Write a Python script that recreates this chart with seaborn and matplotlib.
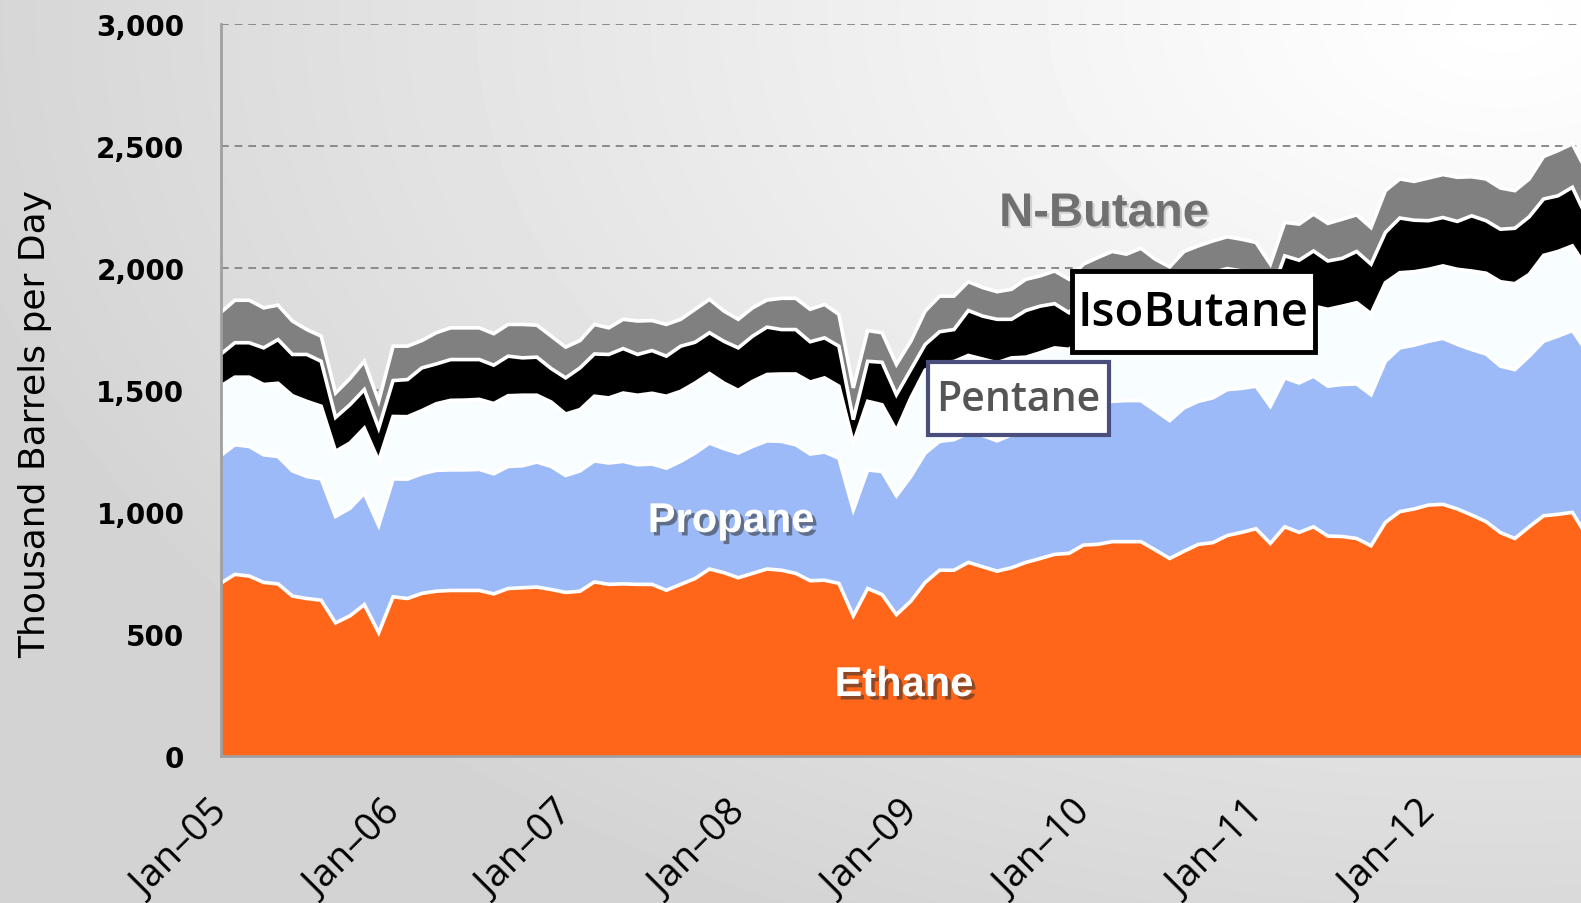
import numpy as np
import matplotlib
matplotlib.use("Agg")
import matplotlib.pyplot as plt
import matplotlib.transforms as mtransforms
import seaborn as sns
from matplotlib import patheffects as pe
from matplotlib.patches import Rectangle

# ---------------- data (thousand barrels per day, monthly Jan-05 .. Dec-12) -------------
year_ticks = ["Jan\u201305", "Jan\u201306", "Jan\u201307", "Jan\u201308",
              "Jan\u201309", "Jan\u201310", "Jan\u201311", "Jan\u201312"]
y_tick_values = [0, 500, 1000, 1500, 2000, 2500, 3000]
y_tick_labels = ["0", "500", "1,000", "1,500", "2,000", "2,500", "3,000"]
series_names = ["Ethane", "Propane", "Pentane", "IsoButane", "N-Butane"]

ethane = [706, 743, 736, 710, 704, 654, 644, 637, 544, 573, 619, 504,
          651, 644, 665, 674, 677, 677, 677, 663, 685, 688, 691, 681,
          669, 674, 712, 702, 704, 702, 702, 678, 702, 726, 765, 750,
          729, 747, 765, 760, 747, 717, 719, 706, 573, 685, 660, 578,
          633, 710, 760, 760, 792, 774, 756, 770, 792, 808, 825, 829,
          863, 866, 877, 877, 877, 843, 808, 838, 866, 873, 902, 915,
          930, 870, 938, 915, 938, 900, 898, 890, 860, 956, 1000, 1011,
          1027, 1030, 1011, 986, 959, 914, 890, 938, 983, 989, 997, 900]

propane = [523, 531, 531, 523, 522, 513, 500, 497, 436, 441, 456, 439,
           483, 489, 490, 495, 494, 494, 496, 492, 500, 500, 512, 504,
           479, 493, 496, 497, 502, 490, 493, 500, 504, 514, 516, 508,
           511, 520, 525, 528, 527, 519, 525, 513, 434, 486, 504, 487,
           511, 530, 528, 535, 530, 538, 534, 545, 548, 552, 555, 566,
           557, 574, 575, 578, 578, 571, 565, 587, 586, 593, 598, 590,
           584, 562, 610, 612, 617, 614, 623, 633, 619, 660, 671, 671,
           671, 680, 674, 678, 687, 682, 692, 699, 715, 730, 745, 756]

pentane = [285, 277, 284, 288, 300, 308, 308, 298, 267, 267, 267, 265,
           256, 256, 259, 273, 285, 286, 287, 288, 290, 289, 274, 264,
           252, 251, 265, 267, 280, 285, 290, 295, 287, 287, 285, 269,
           257, 267, 272, 276, 290, 295, 304, 295, 274, 281, 274, 267,
           322, 340, 322, 320, 318, 313, 320, 315, 293, 291, 291, 270,
           290, 290, 290, 290, 290, 300, 320, 300, 290, 290, 290, 289,
           290, 290, 290, 290, 287, 315, 321, 333, 332, 322, 308, 301,
           295, 297, 308, 322, 331, 346, 352, 335, 352, 347, 347, 344]

isobutane = [130, 141, 141, 150, 179, 169, 192, 184, 139, 157, 158, 134,
             147, 152, 175, 163, 167, 166, 163, 157, 162, 153, 156, 137,
             148, 171, 173, 178, 182, 167, 175, 164, 185, 167, 167, 171,
             174, 185, 194, 182, 182, 165, 164, 164, 96, 164, 174, 147,
             116, 105, 127, 131, 184, 176, 178, 158, 191, 191, 181, 150,
             174, 181, 194, 180, 204, 190, 180, 211, 217, 223, 206, 192,
             169, 162, 210, 213, 226, 198, 196, 210, 203, 206, 224, 211,
             199, 198, 196, 226, 215, 215, 227, 236, 231, 228, 240, 204]

nbutane = [171, 174, 174, 164, 141, 137, 102, 103, 100, 107, 116, 110,
           141, 137, 112, 128, 130, 130, 130, 129, 130, 137, 131, 133,
           126, 112, 121, 109, 120, 137, 123, 130, 110, 135, 137, 124,
           117, 116, 111, 128, 128, 133, 137, 130, 130, 126, 121, 124,
           116, 137, 146, 137, 118, 117, 113, 123, 128, 124, 134, 137,
           130, 130, 130, 130, 130, 130, 130, 130, 130, 130, 130, 130,
           130, 130, 137, 148, 151, 154, 160, 150, 150, 171, 160, 159,
           175, 176, 181, 160, 171, 169, 154, 155, 174, 185, 178, 190]

colors = ["#FF6619", "#9CBAF8", "#F8FDFF", "#000000", "#808080"]

# ---------------- figure -------------------------------------------------------------------
sns.set_style("white")
plt.rcParams['font.family'] = ['DejaVu Sans']
plt.rcParams['text.color'] = 'black'

W, H = 1581, 904
fig = plt.figure(figsize=(W / 100, H / 100), dpi=100)

# radial grey background (white toward top right)
bg = fig.add_axes([0, 0, 1, 1])
bg.axis("off")
yy, xx = np.mgrid[0:H, 0:W]
d = np.hypot((xx - 1500) / W, (yy - 20) / H * 0.9)
shade = 1.0 - 0.17 * np.clip(d / 1.0, 0, 1) ** 1.1
bg.imshow(shade, cmap="gray", vmin=0, vmax=1, aspect="auto",
          extent=[0, 1, 0, 1], origin="upper", interpolation="bilinear")
bg.set_xlim(0, 1)
bg.set_ylim(0, 1)

x0_px, y0_px, ytop_px = 220.5, 756.7, 24.5
ax = fig.add_axes([x0_px / W, (H - y0_px) / H, 1 - x0_px / W, (y0_px - ytop_px) / H])
ax.patch.set_alpha(0)

x = np.arange(len(ethane))
layers = [ethane, propane, pentane, isobutane, nbutane]
ax.stackplot(x, *layers, colors=colors, linewidth=0, zorder=2)

# white separator lines on each stack boundary
cum = np.cumsum(np.array(layers, dtype=float), axis=0)
for k in range(len(layers)):
    sns.lineplot(x=x, y=cum[k], ax=ax, color="white", linewidth=2.6,
                 zorder=3, legend=False, solid_joinstyle="miter")

ax.set_xlim(0, 94.6)
ax.set_ylim(0, 3000)

ax.set_yticks(y_tick_values)
ax.set_yticklabels(y_tick_labels)
ax.set_xticks(np.arange(0, 96, 12))
ax.set_xticklabels(year_ticks, rotation=45, ha="right", rotation_mode="anchor",
                   fontfamily="Open Sans", fontsize=27.5)
ax.set_xlabel("")
ax.set_ylabel("")

ax.yaxis.grid(True, linestyle=(0, (4, 3)), color="#8a8a8a", linewidth=1.4, zorder=0)
ax.set_axisbelow(True)

for s in ["top", "right"]:
    ax.spines[s].set_visible(False)
for s in ["left", "bottom"]:
    ax.spines[s].set_color("#a0a0a0")
    ax.spines[s].set_linewidth(2)
    ax.spines[s].set_zorder(4)

ax.tick_params(axis="y", direction="out", length=9, width=1.5, color="#a0a0a0",
               pad=17, labelsize=20, labelcolor="black")
for t in ax.get_yticklabels():
    t.set_fontweight("bold")
ax.tick_params(axis="x", direction="out", length=11, width=1.5, color="#a0a0a0",
               pad=16, labelcolor="black")
shift = mtransforms.ScaledTranslation(-12 / 100, 0, fig.dpi_scale_trans)
for t in ax.get_xticklabels():
    t.set_transform(t.get_transform() + shift)

# y axis title
fig.text(35 / W, 1 - 424 / H, "Thousand Barrels per Day", rotation=90,
         ha="center", va="center", fontsize=26, color="black")

# ---------------- series labels --------------------------------------------------------------
shadow = [pe.SimplePatchShadow(offset=(2.5, -2.5), shadow_rgbFace="#303030", alpha=0.55),
          pe.Normal()]
fig.text(904 / W, 1 - 686 / H, series_names[0], ha="center", va="center",
         fontsize=30, fontweight="bold", color="white",
         fontfamily="Liberation Sans", path_effects=shadow, zorder=10)
fig.text(731 / W, 1 - 522 / H, series_names[1], ha="center", va="center",
         fontsize=30, fontweight="bold", color="white",
         fontfamily="Liberation Sans", path_effects=shadow, zorder=10)
fig.text(1104 / W, 1 - 215 / H, series_names[4], ha="center", va="center",
         fontsize=34, fontweight="bold", color="#707070",
         fontfamily="Liberation Sans",
         path_effects=[pe.SimplePatchShadow(offset=(1.5, -1.5), shadow_rgbFace="#bbbbbb",
                                            alpha=0.6), pe.Normal()], zorder=10)

# boxed labels
fig.add_artist(Rectangle((1072 / W, 1 - 353 / H), (1315 - 1072) / W, (353 - 272) / H,
                         transform=fig.transFigure, facecolor="white",
                         edgecolor="black", linewidth=3.5, zorder=9))
fig.text(1193 / W, 1 - 313 / H, series_names[3], ha="center", va="center",
         fontsize=34, fontweight="semibold", color="black", fontfamily="Open Sans",
         zorder=10)
fig.add_artist(Rectangle((928 / W, 1 - 436 / H), (1109 - 928) / W, (436 - 363) / H,
                         transform=fig.transFigure, facecolor="white",
                         edgecolor="#4a4e7c", linewidth=3, zorder=9))
fig.text(1018 / W, 1 - 400 / H, series_names[2], ha="center", va="center",
         fontsize=29.5, fontweight="semibold", color="#555555", fontfamily="Open Sans",
         zorder=10)

fig.savefig("out.png", dpi=100)
